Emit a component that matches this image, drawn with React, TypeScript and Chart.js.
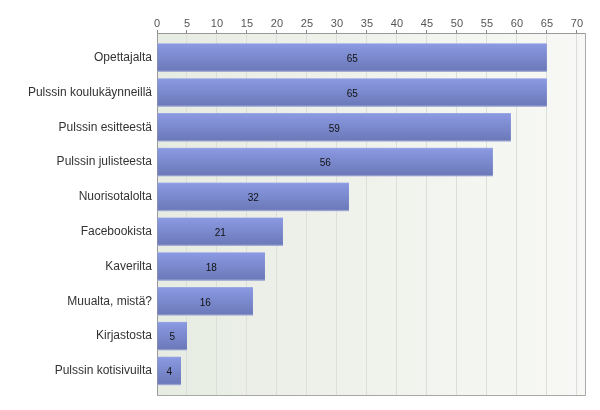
import React, { useEffect, useRef } from "react";
import { Chart, registerables } from "chart.js";

Chart.register(...registerables);

const categories = [
  "Opettajalta",
  "Pulssin koulukäynneillä",
  "Pulssin esitteestä",
  "Pulssin julisteesta",
  "Nuorisotalolta",
  "Facebookista",
  "Kaverilta",
  "Muualta, mistä?",
  "Kirjastosta",
  "Pulssin kotisivuilta",
];
const values = [65, 65, 59, 56, 32, 21, 18, 16, 5, 4];
const xTickMax = 70;
const xTickStep = 5;

const FONT = "'Liberation Sans', Arial, sans-serif";
const Y_MIN = -0.71;
const Y_MAX = 9.69;

const frameAndLabels = {
  id: "frameAndLabels",
  beforeDraw(chart: any) {
    const { ctx, chartArea: a } = chart;
    ctx.save();
    const g = ctx.createLinearGradient(a.left, 0, a.right, 0);
    g.addColorStop(0, "#e7ece2");
    g.addColorStop(1, "#f8f9f6");
    ctx.fillStyle = g;
    ctx.fillRect(a.left, a.top, a.right - a.left, a.bottom - a.top);
    ctx.restore();
  },
  afterDatasetsDraw(chart: any) {
    const { ctx, chartArea: a } = chart;
    ctx.save();
    ctx.strokeStyle = "#a8a8a8";
    ctx.lineWidth = 1;
    ctx.beginPath();
    ctx.moveTo(a.right + 0.5, a.top);
    ctx.lineTo(a.right + 0.5, a.bottom + 0.5);
    ctx.lineTo(a.left, a.bottom + 0.5);
    ctx.stroke();
    const meta = chart.getDatasetMeta(0);
    ctx.fillStyle = "#111";
    ctx.font = `10px ${FONT}`;
    ctx.textAlign = "center";
    ctx.textBaseline = "middle";
    meta.data.forEach((el: any, i: number) => {
      const cx = (el.x + el.base) / 2;
      ctx.fillText(String(values[i]), cx, el.y + 1.5);
    });
    ctx.restore();
  },
};

export default function App() {
  const ref = useRef<HTMLCanvasElement | null>(null);
  useEffect(() => {
    if (!ref.current) return;
    const chart = new Chart(ref.current, {
      type: "bar",
      data: {
        datasets: [
          {
            data: values.map((v, i) => ({ x: v, y: i })),
            backgroundColor: (c: any) => {
              const ch = c.chart;
              const ys = ch.scales?.y;
              if (!ys || c.dataIndex === undefined) return "#7b8ad0";
              const cy = ys.getPixelForValue(c.dataIndex);
              const cy1 = ys.getPixelForValue(c.dataIndex + 1);
              if (!isFinite(cy) || !isFinite(cy1)) return "#7b8ad0";
              const step = Math.abs(cy1 - cy);
              const h = step * 0.825;
              if (!(h > 0)) return "#7b8ad0";
              const gr = ch.ctx.createLinearGradient(0, cy - h / 2, 0, cy + h / 2);
              gr.addColorStop(0, "#a9b3e8");
              gr.addColorStop(0.04, "#8a99e1");
              gr.addColorStop(0.93, "#6c7aba");
              gr.addColorStop(1, "#b9c0de");
              return gr;
            },
            borderWidth: 0,
            categoryPercentage: 1,
            barPercentage: 0.825,
          },
        ],
      },
      options: {
        indexAxis: "y",
        animation: false,
        responsive: false,
        maintainAspectRatio: false,
        layout: { padding: { left: 0, right: 15, top: 0, bottom: 15 } },
        plugins: { legend: { display: false }, tooltip: { enabled: false } },
        scales: {
          x: {
            type: "linear",
            position: "top",
            min: 0,
            max: 71.35,
            bounds: "data",
            offset: false,
            afterFit: (s: any) => {
              s.height = 33;
            },
            afterBuildTicks: (s: any) => {
              const t = [];
              for (let v = 0; v <= xTickMax; v += xTickStep) t.push({ value: v });
              s.ticks = t;
              s.min = 0;
              s.max = 71.35;
            },
            border: { display: true, color: "#999", width: 1 },
            grid: {
              color: "#dcdfd9",
              tickColor: "#888",
              tickLength: 3,
              lineWidth: 1,
              offset: false,
            },
            ticks: {
              color: "#555",
              font: { family: FONT, size: 11 },
              padding: -1,
            },
          },
          y: {
            type: "linear",
            reverse: true,
            min: Y_MIN,
            max: Y_MAX,
            bounds: "data",
            offset: false,
            grace: 0,
            afterFit: (s: any) => {
              s.width = 157;
            },
            afterBuildTicks: (s: any) => {
              s.ticks = categories.map((_, i) => ({ value: i }));
              s.min = Y_MIN;
              s.max = Y_MAX;
            },
            border: { display: true, color: "#999", width: 1 },
            grid: { display: false, drawTicks: false, offset: false },
            ticks: {
              color: "#333",
              font: { family: FONT, size: 12 },
              padding: 5,
              callback: (v: any) => categories[v as number] ?? "",
            },
          },
        },
      },
      plugins: [frameAndLabels],
    } as any);
    return () => chart.destroy();
  }, []);
  return (
    <div style={{ position: "fixed", left: 0, top: 0, width: 600, height: 410, background: "#fff" }}>
      <canvas ref={ref} width={600} height={410} style={{ width: 600, height: 410, display: "block" }} />
    </div>
  );
}
